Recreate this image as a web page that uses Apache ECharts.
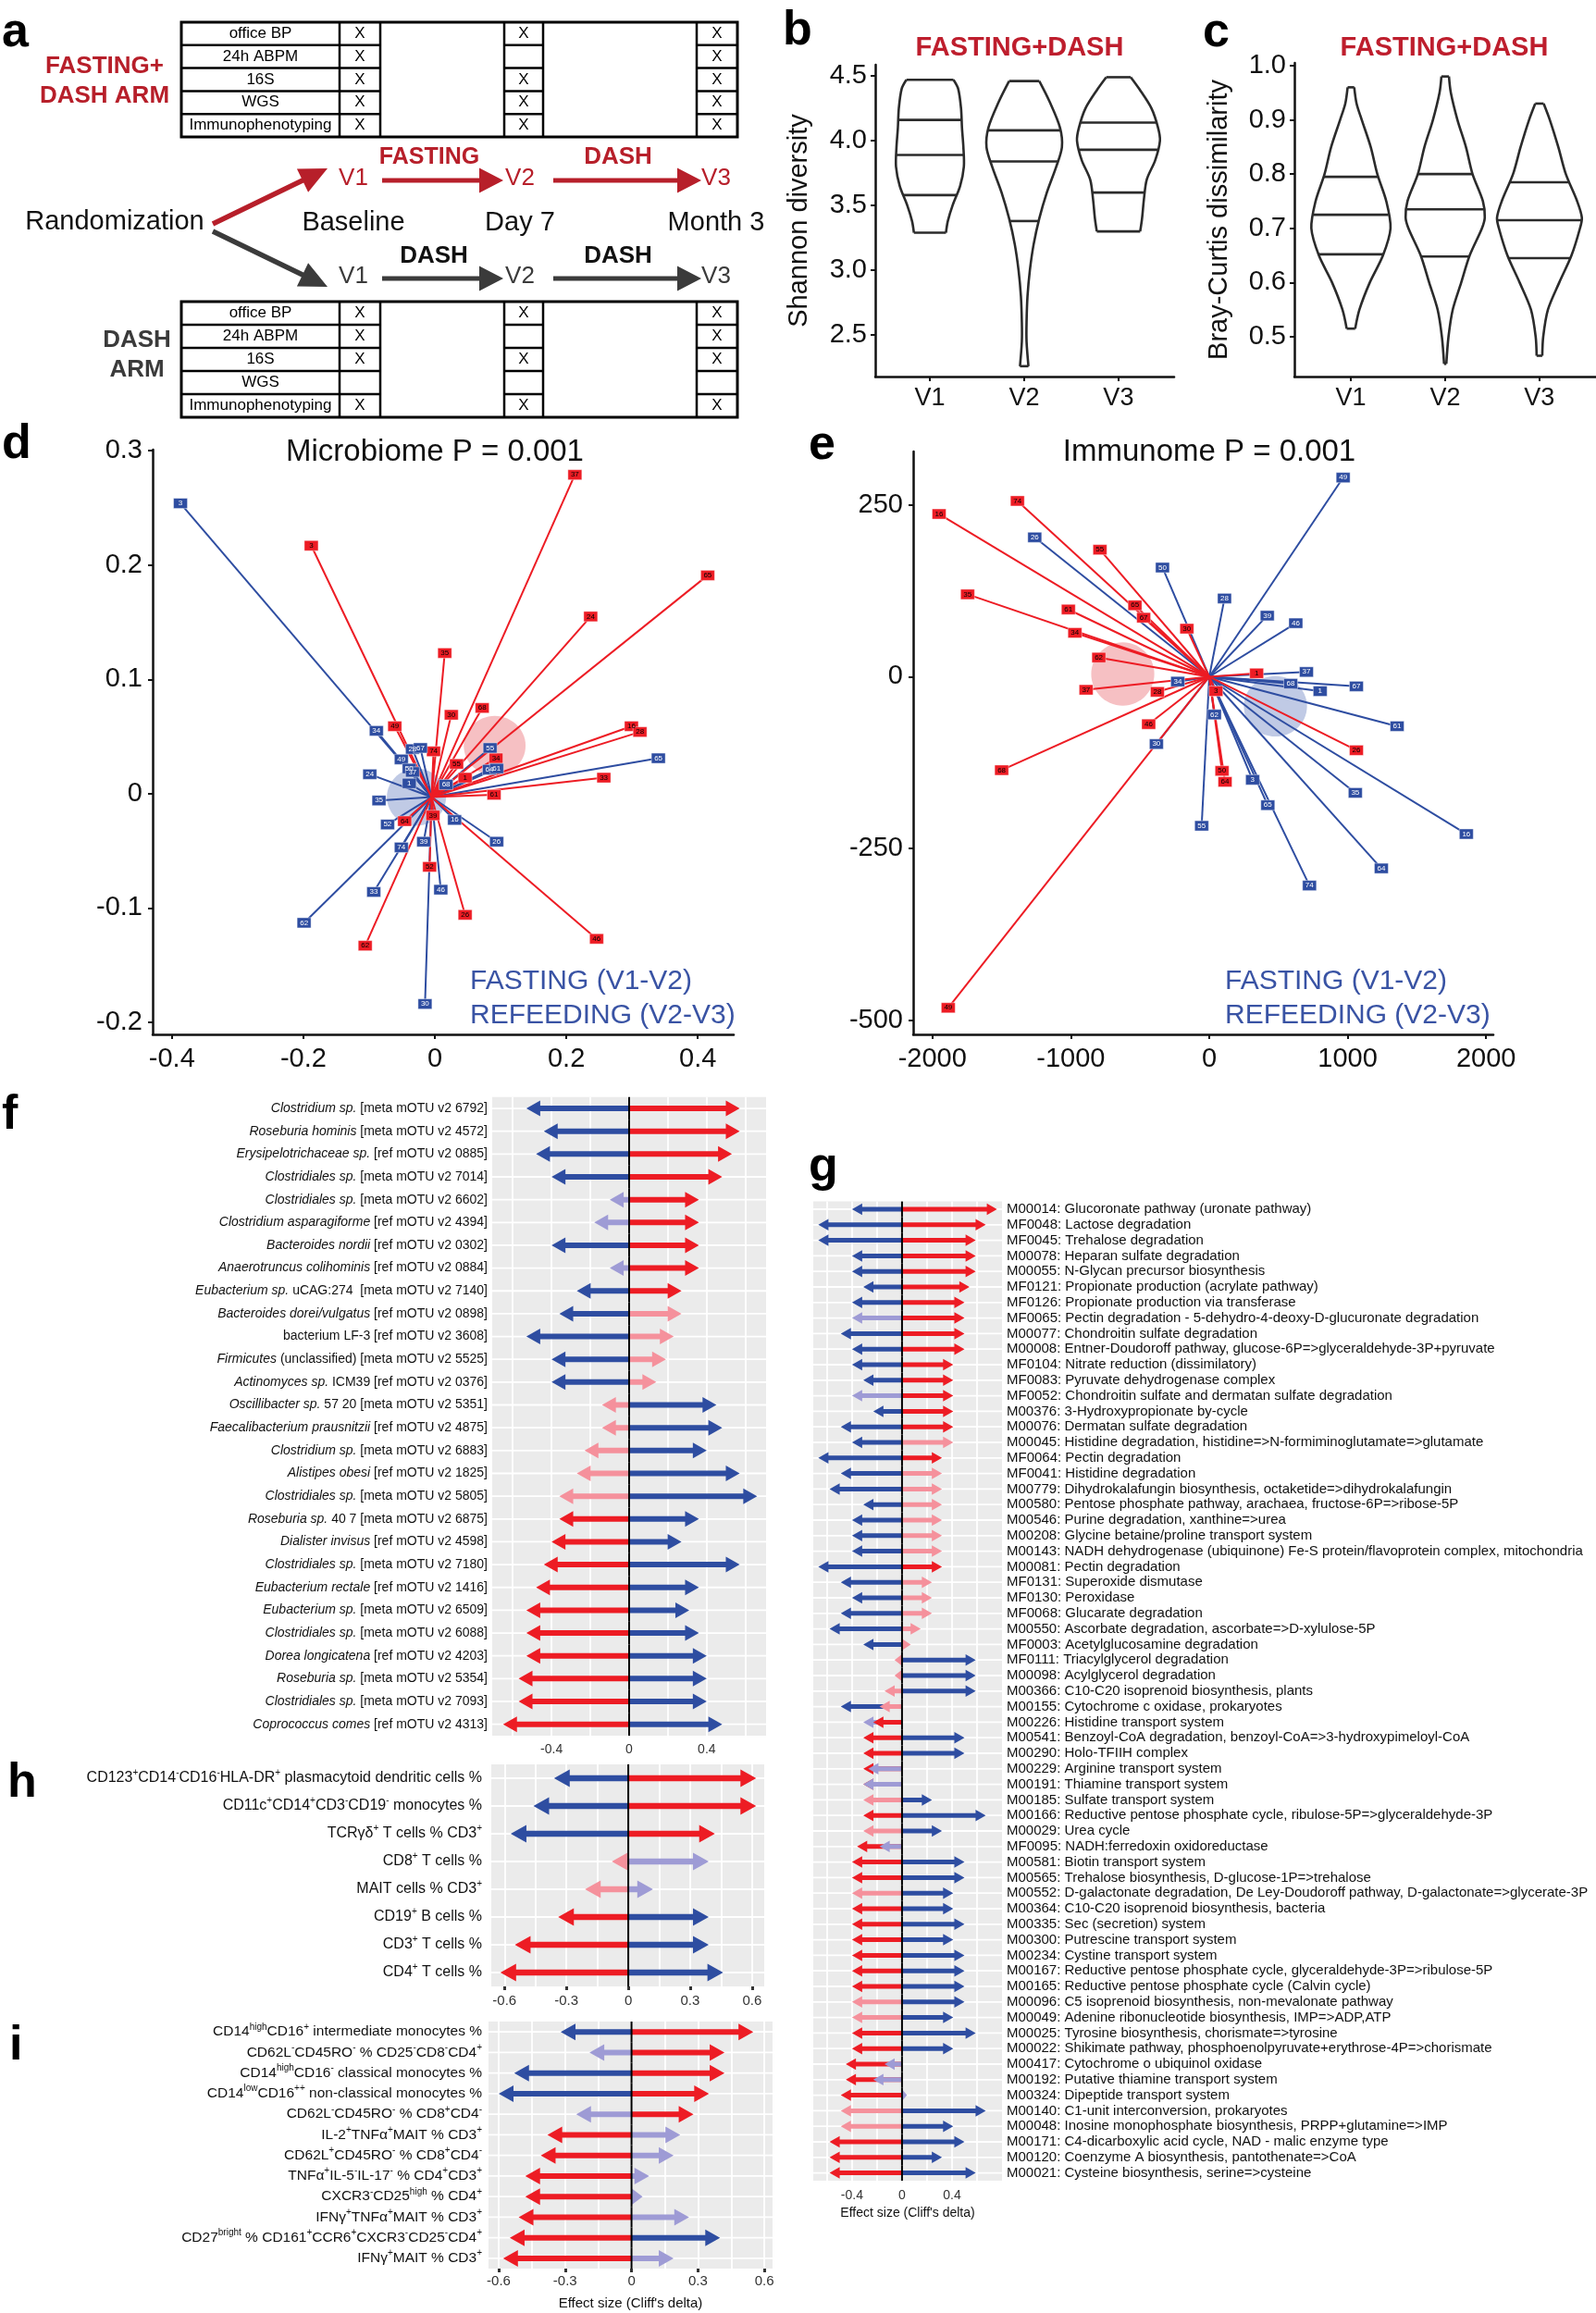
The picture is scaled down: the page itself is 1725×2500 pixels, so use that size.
<!DOCTYPE html>
<html>
<head>
<meta charset="utf-8">
<title>Fasting + DASH</title>
<script src="https://cdn.jsdelivr.net/npm/echarts@6.0.0/dist/echarts.min.js"></script>
<style>
  html, body { margin: 0; padding: 0; background: #fff; }
  #fig { width: 1725px; height: 2500px; }
</style>
</head>
<body>
<div id="fig"></div>
<script>
var SANS = "'Liberation Sans', Arial, sans-serif";

// ---- a: study design
var assessments = ['office BP', '24h ABPM', '16S', 'WGS', 'Immunophenotyping'];
var fastingArmVisits = [[1, 1, 1], [1, 0, 1], [1, 1, 1], [1, 1, 1], [1, 1, 1]];
var dashArmVisits = [[1, 1, 1], [1, 0, 1], [1, 1, 1], [0, 0, 0], [1, 1, 1]];
var visitNames = ['V1', 'V2', 'V3'];
var timepoints = ['Baseline', 'Day 7', 'Month 3'];

// ---- b, c: violin outlines [value, half width in category units]
var shannonV1 = [[4.47, 0.25], [4.40, 0.30], [4.25, 0.33], [4.10, 0.34], [3.95, 0.355], [3.80, 0.36], [3.65, 0.32], [3.50, 0.24], [3.38, 0.19], [3.29, 0.17]];
var shannonV2 = [[4.46, 0.16], [4.30, 0.27], [4.10, 0.38], [3.95, 0.40], [3.80, 0.34], [3.60, 0.24], [3.40, 0.16], [3.20, 0.10], [3.00, 0.06], [2.80, 0.035], [2.60, 0.025], [2.45, 0.025], [2.26, 0.045]];
var shannonV3 = [[4.49, 0.13], [4.40, 0.22], [4.25, 0.35], [4.10, 0.42], [4.00, 0.44], [3.85, 0.39], [3.70, 0.30], [3.55, 0.27], [3.40, 0.25], [3.30, 0.23]];
var shannonQuartiles = [[3.58, 3.89, 4.16], [3.38, 3.84, 4.08], [3.60, 3.93, 4.14]];
var shannonTicks = [2.5, 3, 3.5, 4, 4.5];

var brayV1 = [[0.96, 0.035], [0.93, 0.06], [0.90, 0.115], [0.85, 0.21], [0.80, 0.28], [0.75, 0.375], [0.70, 0.42], [0.65, 0.34], [0.60, 0.20], [0.55, 0.09], [0.515, 0.045]];
var brayV2 = [[0.98, 0.04], [0.95, 0.06], [0.90, 0.13], [0.85, 0.22], [0.80, 0.29], [0.75, 0.40], [0.72, 0.42], [0.70, 0.39], [0.65, 0.26], [0.60, 0.17], [0.55, 0.08], [0.50, 0.035], [0.45, 0.012]];
var brayV3 = [[0.93, 0.045], [0.90, 0.11], [0.85, 0.20], [0.80, 0.28], [0.75, 0.40], [0.72, 0.45], [0.70, 0.43], [0.65, 0.34], [0.60, 0.21], [0.55, 0.09], [0.50, 0.04], [0.465, 0.03]];
var brayQuartiles = [[0.652, 0.725, 0.795], [0.648, 0.735, 0.80], [0.645, 0.715, 0.785]];
var brayTicks = [0.5, 0.6, 0.7, 0.8, 0.9, 1.0];

// ---- d: microbiome shifts [patient, x, y]
var microFasting = [['37', 0.213, 0.279], ['3', -0.188, 0.217], ['65', 0.415, 0.191], ['24', 0.237, 0.155], ['35', 0.015, 0.123],
  ['30', 0.025, 0.069], ['68', 0.072, 0.075], ['49', -0.061, 0.059], ['16', 0.299, 0.059], ['28', 0.312, 0.054],
  ['74', -0.002, 0.037], ['55', 0.033, 0.026], ['34', 0.093, 0.031], ['1', 0.046, 0.014], ['33', 0.257, 0.014],
  ['61', 0.090, -0.001], ['39', -0.003, -0.019], ['64', -0.046, -0.024], ['52', -0.008, -0.064], ['26', 0.046, -0.106],
  ['46', 0.246, -0.127], ['62', -0.106, -0.133]];
var microRefeeding = [['3', -0.387, 0.254], ['34', -0.089, 0.055], ['28', -0.034, 0.039], ['67', -0.022, 0.040], ['49', -0.051, 0.030],
  ['50', -0.039, 0.022], ['37', -0.034, 0.019], ['24', -0.099, 0.017], ['1', -0.039, 0.009], ['35', -0.085, -0.006],
  ['52', -0.072, -0.027], ['74', -0.051, -0.047], ['39', -0.017, -0.042], ['33', -0.093, -0.086], ['62', -0.199, -0.113],
  ['30', -0.015, -0.184], ['46', 0.009, -0.084], ['16', 0.030, -0.023], ['26', 0.094, -0.042], ['68', 0.017, 0.008],
  ['64', 0.083, 0.021], ['55', 0.084, 0.040], ['61', 0.094, 0.022], ['65', 0.340, 0.031]];
var microOrigin = [-0.005, -0.003];
var microCentres = [[0.091, 0.042, 0.047, 0.026], [-0.028, -0.003, 0.045, 0.025]]; // [cx, cy, rx, ry]
var microXTicks = [-0.4, -0.2, 0, 0.2, 0.4];
var microYTicks = [-0.2, -0.1, 0, 0.1, 0.2, 0.3];

// ---- e: immunome shifts
var immunoFasting = [['16', -1952, 237], ['74', -1386, 256], ['55', -790, 185], ['35', -1746, 120], ['65', -537, 104],
  ['67', -474, 86], ['30', -162, 70], ['61', -1018, 98], ['34', -971, 64], ['62', -798, 28], ['37', -890, -19],
  ['28', -375, -22], ['1', 342, 5], ['3', 48, -21], ['46', -438, -69], ['68', -1500, -136], ['26', 1063, -107],
  ['50', 92, -137], ['64', 114, -153], ['49', -1886, -482]];
var immunoRefeeding = [['49', 967, 290], ['26', -1261, 203], ['50', -338, 159], ['28', 110, 114], ['39', 419, 89],
  ['46', 625, 78], ['37', 702, 7], ['68', 588, -10], ['67', 1063, -14], ['1', 801, -21], ['34', -228, -7],
  ['61', 1357, -72], ['62', 37, -55], ['3', 313, -150], ['35', 1055, -169], ['65', 423, -187], ['55', -55, -217],
  ['16', 1857, -229], ['64', 1243, -279], ['74', 724, -304], ['30', -382, -98]];
var immunoOrigin = [0, 0];
var immunoCentres = [[-625, 4, 228, 46], [478, -43, 228, 44]];
var immunoXTicks = [-2000, -1000, 0, 1000, 2000];
var immunoYTicks = [-500, -250, 0, 250];

// ---- f: mOTUs, Cliff's delta for fasting (V1-V2) and refeeding (V2-V3)
var fItalic = ['Clostridium sp.', 'Roseburia hominis', 'Erysipelotrichaceae sp.', 'Clostridiales sp.', 'Clostridiales sp.',
  'Clostridium asparagiforme', 'Bacteroides nordii', 'Anaerotruncus colihominis', 'Eubacterium sp.', 'Bacteroides dorei/vulgatus',
  '', 'Firmicutes', 'Actinomyces sp.', 'Oscillibacter sp.', 'Faecalibacterium prausnitzii', 'Clostridium sp.', 'Alistipes obesi',
  'Clostridiales sp.', 'Roseburia sp.', 'Dialister invisus', 'Clostridiales sp.', 'Eubacterium rectale', 'Eubacterium sp.',
  'Clostridiales sp.', 'Dorea longicatena', 'Roseburia sp.', 'Clostridiales sp.', 'Coprococcus comes'];
var fPlain = [' [meta mOTU v2 6792]', ' [meta mOTU v2 4572]', ' [ref mOTU v2 0885]', ' [meta mOTU v2 7014]', ' [meta mOTU v2 6602]',
  ' [ref mOTU v2 4394]', ' [ref mOTU v2 0302]', ' [ref mOTU v2 0884]', ' uCAG:274  [meta mOTU v2 7140]', ' [ref mOTU v2 0898]',
  'bacterium LF-3 [ref mOTU v2 3608]', ' (unclassified) [meta mOTU v2 5525]', ' ICM39 [ref mOTU v2 0376]', ' 57 20 [meta mOTU v2 5351]',
  ' [ref mOTU v2 4875]', ' [meta mOTU v2 6883]', ' [ref mOTU v2 1825]', ' [meta mOTU v2 5805]', ' 40 7 [meta mOTU v2 6875]',
  ' [ref mOTU v2 4598]', ' [meta mOTU v2 7180]', ' [ref mOTU v2 1416]', ' [meta mOTU v2 6509]', ' [meta mOTU v2 6088]',
  ' [ref mOTU v2 4203]', ' [meta mOTU v2 5354]', ' [meta mOTU v2 7093]', ' [ref mOTU v2 4313]'];
var fFasting = [0.57, 0.57, 0.53, 0.48, 0.36, 0.36, 0.36, 0.36, 0.27, 0.27, 0.23, 0.19, 0.14, -0.14, -0.14, -0.23, -0.27, -0.36, -0.36, -0.40, -0.44, -0.48, -0.53, -0.53, -0.53, -0.57, -0.57, -0.65];
var fFastingSig = [1, 1, 1, 1, 1, 1, 1, 1, 1, 0, 0, 0, 0, 0, 0, 0, 0, 0, 1, 1, 1, 1, 1, 1, 1, 1, 1, 1];
var fRefeeding = [-0.53, -0.44, -0.48, -0.40, -0.10, -0.18, -0.40, -0.10, -0.27, -0.36, -0.53, -0.40, -0.40, 0.45, 0.48, 0.40, 0.57, 0.66, 0.36, 0.27, 0.57, 0.36, 0.31, 0.36, 0.40, 0.40, 0.40, 0.48];
var fRefeedingSig = [1, 1, 1, 1, 0, 0, 1, 0, 1, 1, 1, 1, 1, 1, 1, 1, 1, 1, 1, 1, 1, 1, 1, 1, 1, 1, 1, 1];

// ---- g: gut modules
var gModules = ['M00014: Glucoronate pathway (uronate pathway)', 'MF0048: Lactose degradation', 'MF0045: Trehalose degradation',
  'M00078: Heparan sulfate degradation', 'M00055: N-Glycan precursor biosynthesis', 'MF0121: Propionate production (acrylate pathway)',
  'MF0126: Propionate production via transferase', 'MF0065: Pectin degradation - 5-dehydro-4-deoxy-D-glucuronate degradation',
  'M00077: Chondroitin sulfate degradation', 'M00008: Entner-Doudoroff pathway, glucose-6P=>glyceraldehyde-3P+pyruvate',
  'MF0104: Nitrate reduction (dissimilatory)', 'MF0083: Pyruvate dehydrogenase complex',
  'MF0052: Chondroitin sulfate and dermatan sulfate degradation', 'M00376: 3-Hydroxypropionate by-cycle',
  'M00076: Dermatan sulfate degradation', 'M00045: Histidine degradation, histidine=>N-formiminoglutamate=>glutamate',
  'MF0064: Pectin degradation', 'MF0041: Histidine degradation', 'M00779: Dihydrokalafungin biosynthesis, octaketide=>dihydrokalafungin',
  'M00580: Pentose phosphate pathway, arachaea, fructose-6P=>ribose-5P', 'M00546: Purine degradation, xanthine=>urea',
  'M00208: Glycine betaine/proline transport system',
  'M00143: NADH dehydrogenase (ubiquinone) Fe-S protein/flavoprotein complex, mitochondria', 'M00081: Pectin degradation',
  'MF0131: Superoxide dismutase', 'MF0130: Peroxidase', 'MF0068: Glucarate degradation',
  'M00550: Ascorbate degradation, ascorbate=>D-xylulose-5P', 'MF0003: Acetylglucosamine degradation',
  'MF0111: Triacylglycerol degradation', 'M00098: Acylglycerol degradation', 'M00366: C10-C20 isoprenoid biosynthesis, plants',
  'M00155: Cytochrome c oxidase, prokaryotes', 'M00226: Histidine transport system',
  'M00541: Benzoyl-CoA degradation, benzoyl-CoA=>3-hydroxypimeloyl-CoA', 'M00290: Holo-TFIIH complex',
  'M00229: Arginine transport system', 'M00191: Thiamine transport system', 'M00185: Sulfate transport system',
  'M00166: Reductive pentose phosphate cycle, ribulose-5P=>glyceraldehyde-3P', 'M00029: Urea cycle',
  'MF0095: NADH:ferredoxin oxidoreductase', 'M00581: Biotin transport system', 'M00565: Trehalose biosynthesis, D-glucose-1P=>trehalose',
  'M00552: D-galactonate degradation, De Ley-Doudoroff pathway, D-galactonate=>glycerate-3P',
  'M00364: C10-C20 isoprenoid biosynthesis, bacteria', 'M00335: Sec (secretion) system', 'M00300: Putrescine transport system',
  'M00234: Cystine transport system', 'M00167: Reductive pentose phosphate cycle, glyceraldehyde-3P=>ribulose-5P',
  'M00165: Reductive pentose phosphate cycle (Calvin cycle)', 'M00096: C5 isoprenoid biosynthesis, non-mevalonate pathway',
  'M00049: Adenine ribonucleotide biosynthesis, IMP=>ADP,ATP', 'M00025: Tyrosine biosynthesis, chorismate=>tyrosine',
  'M00022: Shikimate pathway, phosphoenolpyruvate+erythrose-4P=>chorismate', 'M00417: Cytochrome o ubiquinol oxidase',
  'M00192: Putative thiamine transport system', 'M00324: Dipeptide transport system', 'M00140: C1-unit interconversion, prokaryotes',
  'M00048: Inosine monophosphate biosynthesis, PRPP+glutamine=>IMP', 'M00171: C4-dicarboxylic acid cycle, NAD - malic enzyme type',
  'M00120: Coenzyme A biosynthesis, pantothenate=>CoA', 'M00021: Cysteine biosynthesis, serine=>cysteine'];
var gFasting = [0.76, 0.67, 0.59, 0.59, 0.59, 0.54, 0.50, 0.50, 0.50, 0.50, 0.41, 0.41, 0.41, 0.41, 0.41, 0.41,
  0.32, 0.32, 0.32, 0.32, 0.32, 0.32, 0.32, 0.32, 0.24, 0.24, 0.24, 0.15, 0.07, -0.06, -0.06, -0.14, -0.18, -0.23,
  -0.31, -0.31, -0.31, -0.31, -0.31, -0.31, -0.31, -0.36, -0.40, -0.40, -0.40, -0.40, -0.40, -0.40, -0.40, -0.40,
  -0.40, -0.40, -0.40, -0.40, -0.40, -0.45, -0.45, -0.49, -0.49, -0.49, -0.58, -0.58, -0.58];
var gFastingSig = [1, 1, 1, 1, 1, 1, 1, 1, 1, 1, 1, 1, 1, 1, 1, 0, 1, 0, 0, 0, 0, 0, 0, 1, 0, 0, 0, 0, 0, 0,
  0, 0, 0, 1, 1, 1, 1, 1, 0, 1, 0, 1, 1, 1, 0, 1, 1, 1, 1, 1, 1, 0, 0, 1, 1, 1, 1, 1, 0, 0, 1, 1, 1];
var gRefeeding = [-0.40, -0.67, -0.67, -0.40, -0.40, -0.31, -0.40, -0.40, -0.49, -0.40, -0.40, -0.31, -0.40, -0.23, -0.49,
  -0.40, -0.67, -0.49, -0.58, -0.31, -0.40, -0.40, -0.40, -0.67, -0.49, -0.40, -0.49, -0.58, -0.31, 0.59,
  0.59, 0.59, -0.49, -0.31, 0.50, 0.50, -0.27, -0.31, 0.24, 0.67, 0.32, -0.18, 0.50, 0.50, 0.41, 0.41, 0.50, 0.41,
  0.50, 0.50, 0.50, 0.50, 0.41, 0.59, 0.41, -0.14, -0.23, 0.04, 0.67, 0.41, 0.50, 0.32, 0.59];
var gRefeedingSig = [1, 1, 1, 1, 1, 1, 1, 0, 1, 1, 1, 1, 0, 1, 1, 1, 1, 1, 1, 1, 1, 1, 1, 1, 1, 1, 1, 1, 1, 1,
  1, 1, 1, 0, 1, 1, 0, 0, 1, 1, 1, 0, 1, 1, 1, 1, 1, 1, 1, 1, 1, 1, 1, 1, 1, 0, 0, 0, 1, 1, 1, 1, 1];

// ---- h: immune cell populations
var hCells = ['CD123^{+}CD14^{-}CD16^{-}HLA-DR^{+} plasmacytoid dendritic cells %', 'CD11c^{+}CD14^{+}CD3^{-}CD19^{-} monocytes %',
  'TCRγδ^{+} T cells % CD3^{+}', 'CD8^{+} T cells %', 'MAIT cells % CD3^{+}', 'CD19^{+} B cells %', 'CD3^{+} T cells %', 'CD4^{+} T cells %'];
var hFasting = [0.62, 0.62, 0.42, -0.08, -0.21, -0.34, -0.55, -0.62];
var hFastingSig = [1, 1, 1, 0, 0, 1, 1, 1];
var hRefeeding = [-0.36, -0.46, -0.57, 0.39, 0.12, 0.39, 0.39, 0.46];
var hRefeedingSig = [1, 1, 1, 0, 0, 1, 1, 1];

// ---- i: immune cell subsets
var iCells = ['CD14^{high}CD16^{+} intermediate monocytes %', 'CD62L^{-}CD45RO^{-} % CD25^{-}CD8^{-}CD4^{+}',
  'CD14^{high}CD16^{-} classical monocytes %', 'CD14^{low}CD16^{++} non-classical monocytes %', 'CD62L^{-}CD45RO^{-} % CD8^{+}CD4^{-}',
  'IL-2^{+}TNFα^{+}MAIT % CD3^{+}', 'CD62L^{+}CD45RO^{-} % CD8^{+}CD4^{-}', 'TNFα^{+}IL-5^{-}IL-17^{-} % CD4^{+}CD3^{+}',
  'CXCR3^{-}CD25^{high} % CD4^{+}', 'IFNγ^{+}TNFα^{+}MAIT % CD3^{+}', 'CD27^{bright} % CD161^{+}CCR6^{+}CXCR3^{-}CD25^{-}CD4^{+}',
  'IFNγ^{+}MAIT % CD3^{+}'];
var iFasting = [0.55, 0.42, 0.42, 0.35, 0.28, -0.38, -0.41, -0.48, -0.48, -0.51, -0.55, -0.58];
var iFastingSig = [1, 1, 1, 1, 1, 1, 1, 1, 1, 1, 1, 1];
var iRefeeding = [-0.32, -0.19, -0.53, -0.60, -0.25, 0.22, 0.19, 0.08, 0.05, 0.26, 0.40, 0.19];
var iRefeedingSig = [1, 0, 1, 1, 0, 0, 0, 0, 0, 0, 1, 0];

// ---- colours
var RED = '#ED1C24', PINK = '#F5919C', BLUE = '#2E4DA1', PURPLE = '#9E9BD5';
var A_RED = '#B71F2A', A_GREY = '#3B3B3B', TITLE_RED = '#BE1E2D', LEGEND_BLUE = '#3953A4';

function fmtNum(v) { return v === 0 ? '0' : String(+v.toFixed(2)); }

function halfWidthAt(prof, v) {
  for (var k = 0; k < prof.length - 1; k++) {
    var a = prof[k], b = prof[k + 1];
    if (v <= a[0] && v >= b[0]) return a[1] + (a[0] - v) / (a[0] - b[0]) * (b[1] - a[1]);
  }
  return 0;
}

function violinSeries(xi, yi, profiles, quartiles) {
  return {
    type: 'custom', xAxisIndex: xi, yAxisIndex: yi, silent: true,
    data: profiles.map(function (p, k) { return [k + 1, quartiles[k][1]]; }),
    renderItem: function (params, api) {
      var k = params.dataIndex, cx = api.value(0), prof = profiles[k], n = prof.length;
      var right = prof.map(function (p) { return api.coord([cx + p[1], p[0]]); });
      var left = prof.map(function (p) { return api.coord([cx - p[1], p[0]]); });
      var st = { stroke: '#2b2b2b', lineWidth: 2.6, fill: 'none' };
      var kids = [
        { type: 'polyline', shape: { points: right, smooth: 0.3 }, style: st },
        { type: 'polyline', shape: { points: left, smooth: 0.3 }, style: st },
        { type: 'line', shape: { x1: left[0][0], y1: left[0][1], x2: right[0][0], y2: right[0][1] }, style: st },
        { type: 'line', shape: { x1: left[n - 1][0], y1: left[n - 1][1], x2: right[n - 1][0], y2: right[n - 1][1] }, style: st }
      ];
      quartiles[k].forEach(function (q) {
        var hw = halfWidthAt(prof, q), a = api.coord([cx - hw, q]), b = api.coord([cx + hw, q]);
        kids.push({ type: 'line', shape: { x1: a[0], y1: a[1], x2: b[0], y2: b[1] }, style: st });
      });
      return { type: 'group', children: kids };
    }
  };
}

function ellipseSeries(xi, yi, centres, fills) {
  return {
    type: 'custom', xAxisIndex: xi, yAxisIndex: yi, z: 1, silent: true, data: centres,
    renderItem: function (params, api) {
      var pts = [], cx = api.value(0), cy = api.value(1), rx = api.value(2), ry = api.value(3);
      for (var t = 0; t < 60; t++) {
        var a = t / 60 * Math.PI * 2;
        pts.push(api.coord([cx + rx * Math.cos(a), cy + ry * Math.sin(a)]));
      }
      return { type: 'polygon', shape: { points: pts }, style: { fill: fills[params.dataIndex] } };
    }
  };
}

function spokeSeries(xi, yi, pts, origin, color) {
  return {
    type: 'custom', xAxisIndex: xi, yAxisIndex: yi, z: 2, silent: true,
    data: pts.map(function (p) { return [p[1], p[2]]; }),
    renderItem: function (params, api) {
      var a = api.coord(origin), b = api.coord([api.value(0), api.value(1)]);
      return { type: 'line', shape: { x1: a[0], y1: a[1], x2: b[0], y2: b[1] }, style: { stroke: color, lineWidth: 2 } };
    }
  };
}

function boxSeries(xi, yi, pts, color, textColor) {
  return {
    type: 'scatter', xAxisIndex: xi, yAxisIndex: yi, z: 5, silent: true,
    symbol: 'rect', symbolSize: [15, 11],
    data: pts.map(function (p) { return { name: p[0], value: [p[1], p[2]] }; }),
    itemStyle: { color: color, opacity: 1, borderColor: 'rgba(255,255,255,0.7)', borderWidth: 0.6 },
    label: { show: true, position: 'inside', formatter: '{b}', fontSize: 8, color: textColor, fontFamily: SANS },
    emphasis: { disabled: true }
  };
}

// arrows: red = fasting (V1-V2), blue = refeeding (V2-V3); pale = not significant
function arrowSeries(xi, yi, fast, refeed, fastSig, refeedSig, sz) {
  var n = fast.length;
  return {
    type: 'custom', xAxisIndex: xi, yAxisIndex: yi, silent: true,
    data: fast.map(function (v, k) { return [v, k, refeed[k], fastSig[k], refeedSig[k]]; }),
    renderItem: function (params, api) {
      var k = params.dataIndex, o = api.coord([0, k]), y = o[1], cs = params.coordSys, band = api.size([0, 1])[1];
      var kids = [{ type: 'line', shape: { x1: cs.x, y1: y, x2: cs.x + cs.width, y2: y }, style: { stroke: '#fff', lineWidth: 1.8 } }];
      var arr = [
        { v: api.value(0), c: api.value(3) ? RED : PINK },
        { v: api.value(2), c: api.value(4) ? BLUE : PURPLE }
      ];
      arr.sort(function (a, b) { return Math.abs(b.v) - Math.abs(a.v); });
      arr.forEach(function (a) {
        if (!a.v) return;
        var xt = api.coord([a.v, k])[0], dir = xt > o[0] ? 1 : -1;
        var hl = Math.min(sz.hl, Math.abs(xt - o[0])), xb = xt - dir * hl, s = sz.sh / 2, h = sz.hh / 2;
        kids.push({ type: 'polygon', shape: { points: [[o[0], y - s], [xb, y - s], [xb, y - h], [xt, y], [xb, y + h], [xb, y + s], [o[0], y + s]] }, style: { fill: a.c } });
      });
      var y0 = k === 0 ? cs.y : y - band / 2, y1 = k === n - 1 ? cs.y + cs.height : y + band / 2;
      kids.push({ type: 'line', shape: { x1: o[0], y1: y0, x2: o[0], y2: y1 }, style: { stroke: '#000', lineWidth: 2 } });
      return { type: 'group', children: kids };
    }
  };
}

function plotAxis(gi, min, max, ticks, fmt, o) {
  return {
    gridIndex: gi, type: 'value', min: min, max: max, position: o.position,
    axisLine: { show: true, onZero: false, lineStyle: { color: '#111', width: 2.5 } },
    axisTick: { show: true, customValues: ticks, length: 5, lineStyle: { color: '#111', width: 2 } },
    axisLabel: { customValues: ticks, formatter: fmt, fontSize: o.fs || 29, fontFamily: SANS, color: '#111', margin: o.margin },
    splitLine: { show: false },
    name: o.name || '', nameLocation: 'middle', nameGap: o.nameGap || 0,
    nameTextStyle: { fontSize: 29, fontFamily: SANS, color: '#111' }
  };
}

function gridAxis(gi, min, max, lines) {
  return {
    gridIndex: gi, type: 'value', position: 'bottom', min: min, max: max,
    axisLine: { show: false, onZero: false }, axisTick: { show: false, customValues: lines }, axisLabel: { show: false },
    splitLine: { show: true, lineStyle: { color: '#fff', width: 1.8 } }
  };
}

function labelAxis(gi, min, max, ticks, o) {
  return {
    gridIndex: gi, type: 'value', position: 'bottom', min: min, max: max,
    axisLine: { show: false, onZero: false },
    axisTick: { show: !!o.tick, customValues: ticks, length: 4, lineStyle: { color: '#333', width: 3 } },
    axisLabel: { customValues: ticks, formatter: fmtNum, fontSize: o.fs, fontFamily: SANS, color: '#333', margin: o.margin },
    splitLine: { show: false },
    name: o.name || '', nameLocation: 'middle', nameGap: o.nameGap || 0,
    nameTextStyle: { fontSize: o.fs, fontFamily: SANS, color: '#111' }
  };
}

function catAxis(gi, labels, pos, lab) {
  var axisLabel = { interval: 0, margin: 6, color: '#111', fontFamily: SANS };
  for (var key in lab) axisLabel[key] = lab[key];
  return {
    gridIndex: gi, type: 'category', inverse: true, position: pos, data: labels,
    axisLine: { show: false, onZero: false }, axisTick: { show: false }, splitLine: { show: false },
    axisLabel: axisLabel
  };
}

function supLabel(s) {
  return s.split(/(\^\{[^}]*\})/).filter(Boolean).map(function (t) {
    return t.charAt(0) === '^' ? '{s|' + t.slice(2, -1) + '}' : '{n|' + t + '}';
  }).join('');
}
function supRich(fs) {
  var ss = Math.round(fs * 0.65);
  return {
    n: { fontSize: fs, fontFamily: SANS, color: '#111', lineHeight: fs + 5 },
    s: { fontSize: ss, fontFamily: SANS, color: '#111', lineHeight: ss + 1, verticalAlign: 'top' }
  };
}

// ---- panel a drawn as graphic elements
function txt(s, x, y, font, fill, align) {
  return { type: 'text', silent: true, style: { text: s, x: x, y: y, font: font, fill: fill || '#111', textAlign: align || 'center', textVerticalAlign: 'middle' } };
}
function seg(x1, y1, x2, y2, w, c) {
  return { type: 'line', silent: true, shape: { x1: x1, y1: y1, x2: x2, y2: y2 }, style: { stroke: c || '#000', lineWidth: w || 2.5 } };
}
function arrowPoly(x1, y1, x2, y2, sw, hl, hw, color) {
  var dx = x2 - x1, dy = y2 - y1, L = Math.sqrt(dx * dx + dy * dy), ux = dx / L, uy = dy / L, nx = -uy, ny = ux;
  var bx = x2 - ux * hl, by = y2 - uy * hl;
  return {
    type: 'polygon', silent: true, style: { fill: color },
    shape: { points: [[x1 + nx * sw / 2, y1 + ny * sw / 2], [bx + nx * sw / 2, by + ny * sw / 2], [bx + nx * hw / 2, by + ny * hw / 2], [x2, y2],
      [bx - nx * hw / 2, by - ny * hw / 2], [bx - nx * sw / 2, by - ny * sw / 2], [x1 - nx * sw / 2, y1 - ny * sw / 2]] }
  };
}

var tableCols = [196, 367, 411, 545, 587, 753, 797];
function scheduleTable(top, rowH, marks) {
  var els = [], bottom = top + rowH * assessments.length;
  els.push({ type: 'rect', silent: true, shape: { x: tableCols[0], y: top, width: tableCols[6] - tableCols[0], height: bottom - top }, style: { fill: '#fff', stroke: '#000', lineWidth: 3 } });
  for (var c = 1; c < 6; c++) els.push(seg(tableCols[c], top, tableCols[c], bottom, 2.5));
  for (var r = 1; r < assessments.length; r++) {
    var y = top + r * rowH;
    els.push(seg(tableCols[0], y, tableCols[2], y, 2.5));
    els.push(seg(tableCols[3], y, tableCols[4], y, 2.5));
    els.push(seg(tableCols[5], y, tableCols[6], y, 2.5));
  }
  assessments.forEach(function (name, r) {
    var yc = top + (r + 0.5) * rowH;
    els.push(txt(name, (tableCols[0] + tableCols[1]) / 2, yc, '17px ' + SANS, '#000'));
    marks[r].forEach(function (m, k) {
      if (m) els.push(txt('X', (tableCols[1 + 2 * k] + tableCols[2 + 2 * k]) / 2, yc, '17px ' + SANS, '#000'));
    });
  });
  return els;
}

var visitX = [382, 562, 774];
var graphics = [].concat(
  scheduleTable(24, 24.8, fastingArmVisits),
  scheduleTable(326, 25, dashArmVisits),
  [
    txt('FASTING+', 113, 72, 'bold 26px ' + SANS, A_RED),
    txt('DASH ARM', 113, 104, 'bold 26px ' + SANS, A_RED),
    txt('DASH', 148, 368, 'bold 26px ' + SANS, A_GREY),
    txt('ARM', 148, 400, 'bold 26px ' + SANS, A_GREY),
    txt('FASTING', 464, 170, 'bold 25px ' + SANS, A_RED),
    txt('DASH', 668, 170, 'bold 26px ' + SANS, A_RED),
    txt('DASH', 469, 277, 'bold 26px ' + SANS, '#111'),
    txt('DASH', 668, 277, 'bold 26px ' + SANS, '#111'),
    txt('Randomization', 124, 240, '29px ' + SANS, '#111'),
    arrowPoly(230, 242, 354, 182, 5.5, 30, 28, A_RED),
    arrowPoly(230, 250, 354, 310, 5.5, 30, 28, A_GREY),
    arrowPoly(413, 195, 544, 195, 5, 26, 27, A_RED),
    arrowPoly(598, 195, 758, 195, 5, 26, 27, A_RED),
    arrowPoly(413, 301, 544, 301, 5, 26, 27, A_GREY),
    arrowPoly(598, 301, 758, 301, 5, 26, 27, A_GREY)
  ]
);
visitNames.forEach(function (v, k) {
  graphics.push(txt(v, visitX[k], 193, '26px ' + SANS, A_RED));
  graphics.push(txt(v, visitX[k], 299, '26px ' + SANS, A_GREY));
  graphics.push(txt(timepoints[k], visitX[k], 241, '29px ' + SANS, '#111'));
});
graphics = graphics.concat([
  txt('FASTING+DASH', 1102, 52, 'bold 29px ' + SANS, TITLE_RED),
  txt('FASTING+DASH', 1561, 52, 'bold 29px ' + SANS, TITLE_RED),
  txt('Microbiome P = 0.001', 470, 489, '33px ' + SANS, '#111'),
  txt('Immunome P = 0.001', 1307, 489, '33px ' + SANS, '#111'),
  txt('FASTING (V1-V2)', 508, 1061, '30px ' + SANS, LEGEND_BLUE, 'left'),
  txt('REFEEDING (V2-V3)', 508, 1098, '30px ' + SANS, LEGEND_BLUE, 'left'),
  txt('FASTING (V1-V2)', 1324, 1061, '30px ' + SANS, LEGEND_BLUE, 'left'),
  txt('REFEEDING (V2-V3)', 1324, 1098, '30px ' + SANS, LEGEND_BLUE, 'left')
]);
[['a', 2, 36], ['b', 846, 34], ['c', 1300, 36], ['d', 2, 481], ['e', 874, 482], ['f', 2, 1206], ['g', 874, 1262], ['h', 8, 1928], ['i', 10, 2212]]
  .forEach(function (l) { graphics.push(txt(l[0], l[1], l[2], 'bold 52px ' + SANS, '#000', 'left')); });

var fLines = [-0.6, -0.4, -0.2, 0, 0.2, 0.4, 0.6];
var hLines = [-0.6, -0.45, -0.3, -0.15, 0, 0.15, 0.3, 0.45, 0.6];
var hTicks = [-0.6, -0.3, 0, 0.3, 0.6];
var fTicks = [-0.4, 0, 0.4];

var chart = echarts.init(document.getElementById('fig'), null, { renderer: 'canvas' });
chart.setOption({
  animation: false,
  backgroundColor: '#fff',
  grid: [
    { left: 946, top: 70, width: 323, height: 337, outerBoundsMode: 'none' },
    { left: 1399, top: 68, width: 326, height: 339, outerBoundsMode: 'none' },
    { left: 165, top: 486, width: 628, height: 632, outerBoundsMode: 'none' },
    { left: 987, top: 488, width: 627, height: 630, outerBoundsMode: 'none' },
    { left: 532, top: 1185.7, width: 296, height: 690.3, show: true, backgroundColor: '#EBEBEB', borderWidth: 0, outerBoundsMode: 'none' },
    { left: 879, top: 1298.6, width: 204, height: 1058.4, show: true, backgroundColor: '#EBEBEB', borderWidth: 0, outerBoundsMode: 'none' },
    { left: 531, top: 1907, width: 295, height: 240, show: true, backgroundColor: '#EBEBEB', borderWidth: 0, outerBoundsMode: 'none' },
    { left: 528, top: 2185, width: 307, height: 267, show: true, backgroundColor: '#EBEBEB', borderWidth: 0, outerBoundsMode: 'none' }
  ],
  xAxis: [
    plotAxis(0, 0.42, 3.59, [1, 2, 3], function (v) { return visitNames[v - 1]; }, { position: 'bottom', margin: 10, fs: 27 }),
    plotAxis(1, 0.40, 3.6, [1, 2, 3], function (v) { return visitNames[v - 1]; }, { position: 'bottom', margin: 10, fs: 27 }),
    plotAxis(2, -0.4293, 0.4546, microXTicks, fmtNum, { position: 'bottom', margin: 12 }),
    plotAxis(3, -2139, 2052, immunoXTicks, fmtNum, { position: 'bottom', margin: 12 }),
    gridAxis(4, -0.706, 0.706, fLines),
    labelAxis(4, -0.706, 0.706, fTicks, { fs: 14, margin: 8 }),
    gridAxis(5, -0.71, 0.80, fLines),
    labelAxis(5, -0.71, 0.80, fTicks, { fs: 14, margin: 9, name: "Effect size (Cliff's delta)", nameGap: 28 }),
    gridAxis(6, -0.664, 0.659, hLines),
    labelAxis(6, -0.664, 0.659, hTicks, { fs: 15, margin: 8, tick: true }),
    gridAxis(7, -0.646, 0.637, hLines),
    labelAxis(7, -0.646, 0.637, hTicks, { fs: 15, margin: 6, tick: true, name: "Effect size (Cliff's delta)", nameGap: 30 })
  ],
  yAxis: [
    plotAxis(0, 2.18, 4.586, shannonTicks, function (v) { return v.toFixed(1); }, { position: 'left', margin: 9, name: 'Shannon diversity', nameGap: 68 }),
    plotAxis(1, 0.4266, 1.005, brayTicks, function (v) { return v.toFixed(1); }, { position: 'left', margin: 9, name: 'Bray-Curtis dissimilarity', nameGap: 67 }),
    plotAxis(2, -0.2106, 0.301, microYTicks, fmtNum, { position: 'left', margin: 11 }),
    plotAxis(3, -520.7, 328, immunoYTicks, fmtNum, { position: 'left', margin: 11 }),
    catAxis(4, fItalic.map(function (s, k) { return s + fPlain[k]; }), 'left', {
      margin: 5,
      formatter: function (value, index) { return (fItalic[index] ? '{i|' + fItalic[index] + '}' : '') + '{n|' + fPlain[index] + '}'; },
      rich: { i: { fontSize: 14, fontStyle: 'italic', fontFamily: SANS, color: '#111' }, n: { fontSize: 14, fontFamily: SANS, color: '#111' } }
    }),
    catAxis(5, gModules, 'right', { margin: 5, fontSize: 15 }),
    catAxis(6, hCells, 'left', { margin: 10, formatter: function (v) { return supLabel(v); }, rich: supRich(16) }),
    catAxis(7, iCells, 'left', { margin: 7, formatter: function (v) { return supLabel(v); }, rich: supRich(15.5) })
  ],
  series: [
    violinSeries(0, 0, [shannonV1, shannonV2, shannonV3], shannonQuartiles),
    violinSeries(1, 1, [brayV1, brayV2, brayV3], brayQuartiles),
    ellipseSeries(2, 2, microCentres, ['rgba(240,150,155,0.6)', 'rgba(150,166,212,0.6)']),
    spokeSeries(2, 2, microRefeeding, microOrigin, BLUE),
    spokeSeries(2, 2, microFasting, microOrigin, RED),
    boxSeries(2, 2, microFasting, RED, '#000'),
    boxSeries(2, 2, microRefeeding, BLUE, '#fff'),
    ellipseSeries(3, 3, immunoCentres, ['rgba(240,150,155,0.6)', 'rgba(150,166,212,0.6)']),
    spokeSeries(3, 3, immunoRefeeding, immunoOrigin, BLUE),
    spokeSeries(3, 3, immunoFasting, immunoOrigin, RED),
    boxSeries(3, 3, immunoFasting, RED, '#000'),
    boxSeries(3, 3, immunoRefeeding, BLUE, '#fff'),
    arrowSeries(4, 4, fFasting, fRefeeding, fFastingSig, fRefeedingSig, { sh: 6, hh: 17, hl: 15 }),
    arrowSeries(6, 5, gFasting, gRefeeding, gFastingSig, gRefeedingSig, { sh: 5, hh: 12.5, hl: 11 }),
    arrowSeries(8, 6, hFasting, hRefeeding, hFastingSig, hRefeedingSig, { sh: 6.5, hh: 19, hl: 17 }),
    arrowSeries(10, 7, iFasting, iRefeeding, iFastingSig, iRefeedingSig, { sh: 6, hh: 18, hl: 16 })
  ],
  graphic: { elements: graphics }
});
</script>
</body>
</html>
